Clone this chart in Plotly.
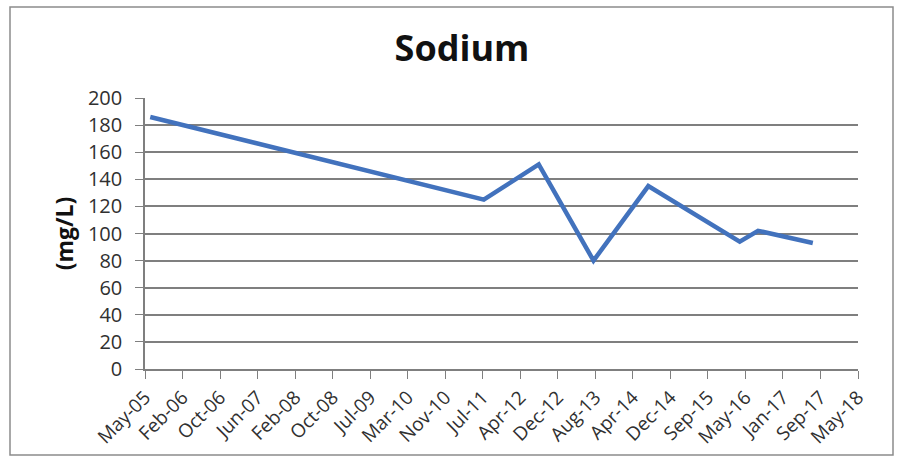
import pandas as pd
import plotly.graph_objects as go

# Sodium concentration samples (mg/L)
sample_dates = ["2005-07-01", "2011-08-01", "2012-08-01", "2013-08-01",
                "2014-08-01", "2016-04-01", "2016-08-01", "2017-08-01"]
sodium_mg_l = [186, 125, 151, 80, 135, 94, 102, 93]

# Date axis: ticks every 250 days from the axis minimum
axis_start = "2005-05-27"
tick_step_days = 250
tick_labels = ["May-05", "Feb-06", "Oct-06", "Jun-07", "Feb-08", "Oct-08",
               "Jul-09", "Mar-10", "Nov-10", "Jul-11", "Apr-12", "Dec-12",
               "Aug-13", "Apr-14", "Dec-14", "Sep-15", "May-16", "Jan-17",
               "Sep-17", "May-18"]
y_ticks = list(range(0, 201, 20))

start = pd.Timestamp(axis_start)
tick_vals = [start + pd.Timedelta(days=tick_step_days * k) for k in range(len(tick_labels))]

W, H = 904, 462
L, R, T, B = 145, 46, 98, 93
pw, ph = W - L - R, H - T - B

fig = go.Figure()
fig.add_trace(go.Scatter(
    x=pd.to_datetime(sample_dates), y=sodium_mg_l, mode="lines",
    line=dict(color="#4272BD", width=4.5), hoverinfo="x+y", showlegend=False,
))

font_family = "Open Sans, Lato, Liberation Sans, sans-serif"

fig.update_layout(
    width=W, height=H,
    margin=dict(l=L, r=R, t=T, b=B),
    paper_bgcolor="white", plot_bgcolor="white",
    font=dict(family=font_family, color="#303030"),
    title=dict(text="<b>Sodium</b>", x=(462 - 0) / W, xanchor="center",
               y=1 - 48 / H, yanchor="middle",
               font=dict(size=36, color="#111111", family=font_family)),
    xaxis=dict(
        range=[tick_vals[0], tick_vals[-1]],
        tickmode="array", tickvals=tick_vals, ticktext=tick_labels,
        tickangle=-45, tickfont=dict(size=19, color="#303030"),
        ticks="outside", ticklen=8, tickcolor="#7f7f7f",
        showline=True, linecolor="#7f7f7f", linewidth=1.5,
        showgrid=False, zeroline=False,
    ),
    yaxis=dict(
        range=[0, 200], tickmode="array", tickvals=y_ticks,
        tickfont=dict(size=20, color="#303030"),
        ticks="outside", ticklen=8, tickcolor="#7f7f7f",
        ticklabelstandoff=9,
        showline=True, linecolor="#7f7f7f", linewidth=1.5,
        showgrid=True, gridcolor="#7f7f7f", gridwidth=1.6,
        zeroline=False,
        title=dict(text="<b>(mg/L)</b>", standoff=8,
                   font=dict(size=23, color="#111111", family=font_family)),
    ),
)

# Outer chart frame
fig.add_shape(type="rect", xref="paper", yref="paper",
              x0=(10 - L) / pw, x1=(893 - L) / pw,
              y0=(H - B - 455) / ph, y1=(H - B - 7) / ph,
              line=dict(color="#8c8c8c", width=1.5), layer="below")

fig.write_html("out.html")
